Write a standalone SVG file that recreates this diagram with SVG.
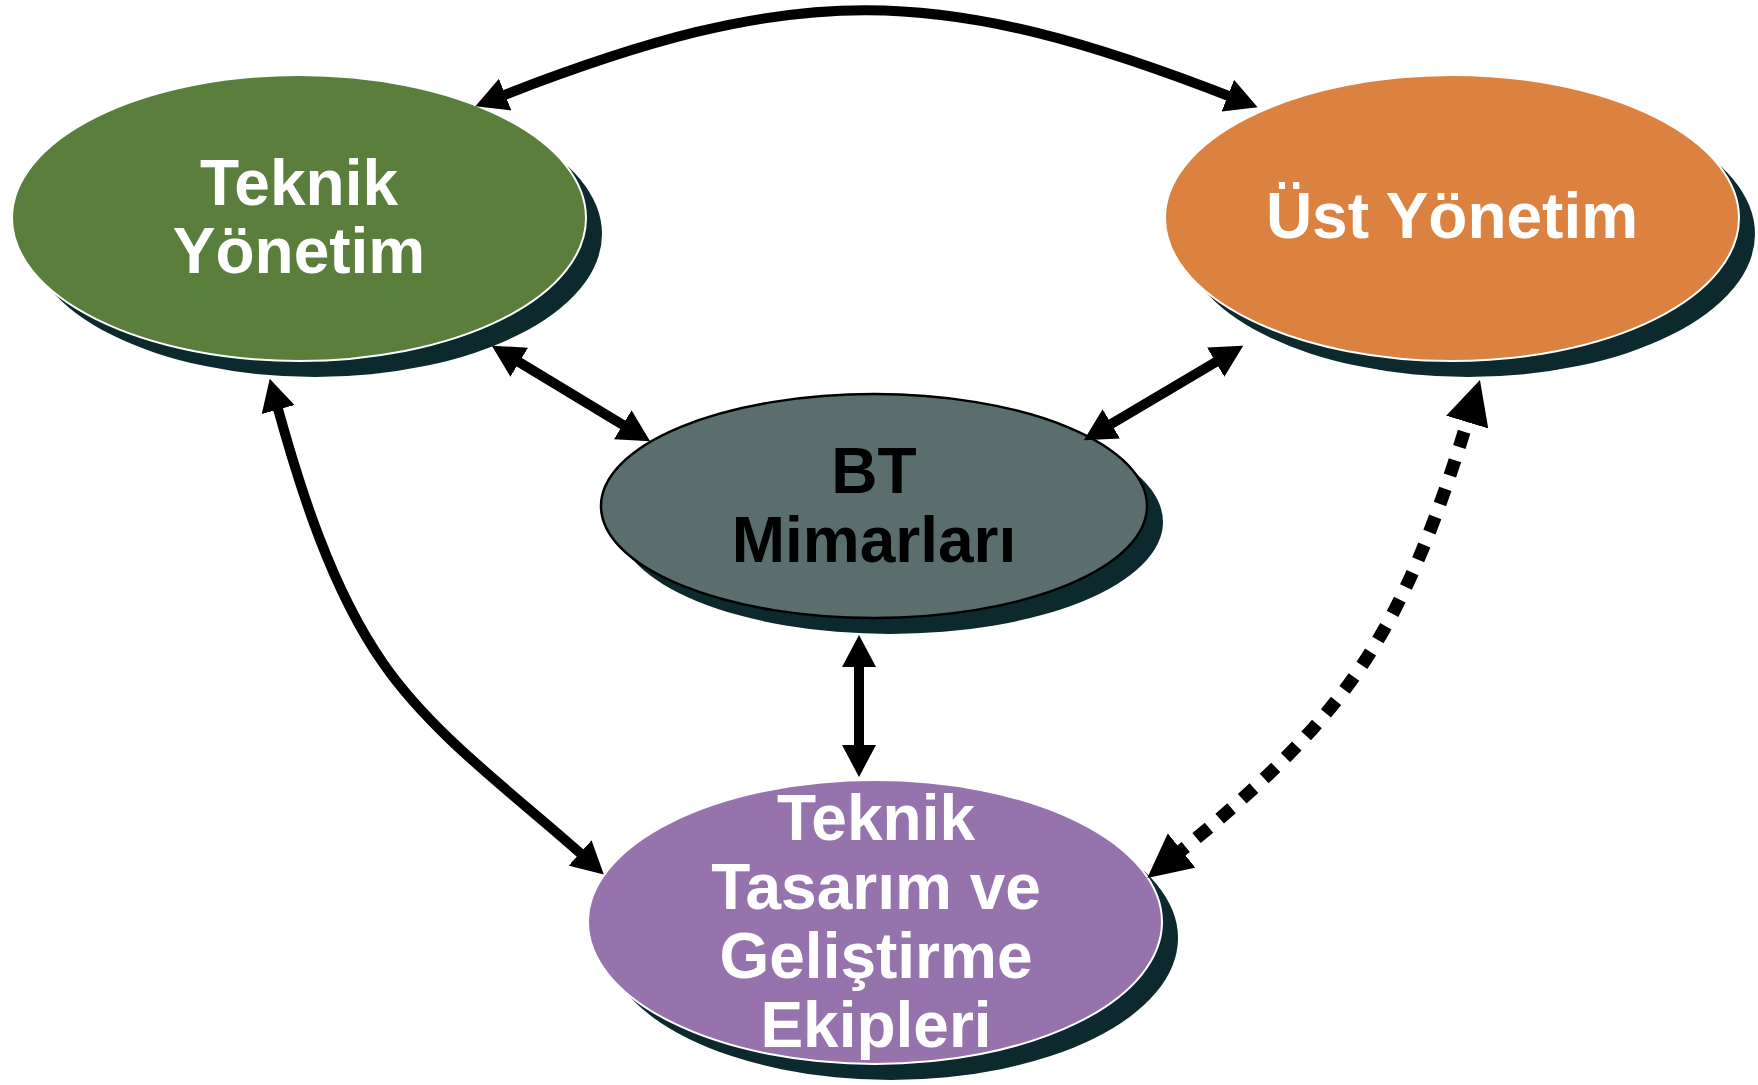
<svg xmlns="http://www.w3.org/2000/svg" width="1758" height="1085" viewBox="0 0 1758 1085">
  <style>
    .shadow { fill: #0C292D; }
    .main { stroke: #ffffff; stroke-width: 2; }
    .label { font-family: "Liberation Sans", Arial, sans-serif; font-weight: bold; font-size: 64px; text-anchor: middle; fill: #ffffff; }
    .dark { fill: #000000; }
    .conn { fill: none; stroke: #000000; stroke-width: 10; }
    .dotted { fill: none; stroke: #000000; stroke-width: 13; stroke-dasharray: 16 14; }
  </style>
  <defs>
    <marker id="ah" viewBox="0 -17 32 34" refX="12" refY="0" markerWidth="32" markerHeight="34" markerUnits="userSpaceOnUse" orient="auto-start-reverse">
      <path d="M0,-17 L32,0 L0,17 Z" fill="#000"/>
    </marker>
    <marker id="ahd" viewBox="0 -22 44 44" refX="20" refY="0" markerWidth="44" markerHeight="44" markerUnits="userSpaceOnUse" orient="auto-start-reverse">
      <path d="M0,-22 L44,0 L0,22 Z" fill="#000"/>
    </marker>
  </defs>
  <rect width="1758" height="1085" fill="#ffffff"/>

  <g id="node-teknik-yonetim">
    <ellipse class="shadow" cx="315" cy="234" rx="287" ry="143"/>
    <ellipse class="main" cx="299" cy="218" rx="287" ry="143" fill="#5A7E3C"/>
    <text class="label" x="299" y="205">Teknik</text>
    <text class="label" x="299" y="273">Yönetim</text>
  </g>

  <g id="node-ust-yonetim">
    <ellipse class="shadow" cx="1468" cy="234" rx="287" ry="143"/>
    <ellipse class="main" cx="1452" cy="218" rx="287" ry="143" fill="#DB8241"/>
    <text class="label" x="1452" y="238">Üst Yönetim</text>
  </g>

  <g id="node-bt-mimarlari">
    <ellipse class="shadow" cx="890" cy="522" rx="273" ry="112"/>
    <ellipse cx="874" cy="506" rx="273" ry="112" fill="#5A6E6E" stroke="#000000" stroke-width="2.5"/>
    <text class="label dark" x="874" y="493">BT</text>
    <text class="label dark" x="874" y="562">Mimarları</text>
  </g>

  <g id="node-teknik-tasarim">
    <ellipse class="shadow" cx="891" cy="938" rx="287" ry="142"/>
    <ellipse class="main" cx="875" cy="922" rx="287" ry="142" fill="#9673AC"/>
    <text class="label" x="876" y="840">Teknik</text>
    <text class="label" x="876" y="909">Tasarım ve</text>
    <text class="label" x="876" y="978">Geliştirme</text>
    <text class="label" x="876" y="1047">Ekipleri</text>
  </g>

  <g id="connectors">
    <path class="conn" d="M494,99 C797,-20 936,-19 1239,100" marker-start="url(#ah)" marker-end="url(#ah)"/>
    <path class="conn" d="M509,356 L633,431" marker-start="url(#ah)" marker-end="url(#ah)"/>
    <path class="conn" d="M1226,356 L1101,430" marker-start="url(#ah)" marker-end="url(#ah)"/>
    <path class="conn" d="M859,655 L859,757" marker-start="url(#ah)" marker-end="url(#ah)"/>
    <path class="conn" d="M275,398 C300,490 332,590 383,663 C434,737 518.6,797.3 589,861" marker-start="url(#ah)" marker-end="url(#ah)"/>
    <path class="dotted" d="M1473,403 C1403.4,632.7 1353.2,712.8 1166,863" marker-start="url(#ahd)" marker-end="url(#ahd)"/>
  </g>
</svg>
